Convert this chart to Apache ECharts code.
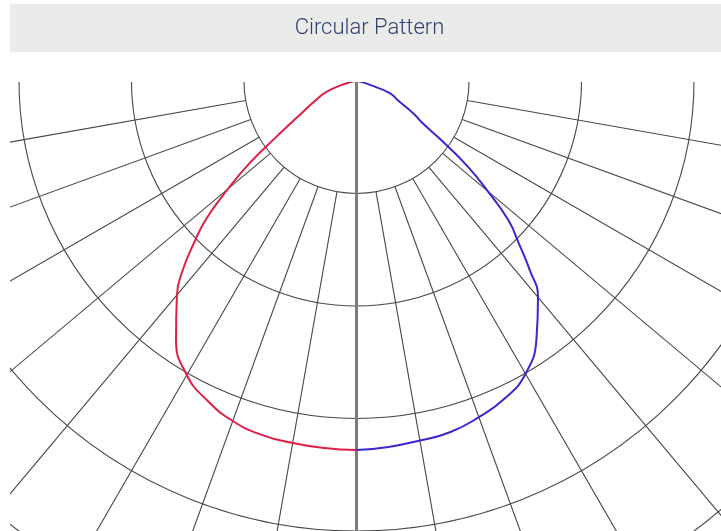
<!DOCTYPE html>
<html>
<head>
<meta charset="utf-8">
<script src="https://cdn.jsdelivr.net/npm/echarts@6/dist/echarts.min.js"></script>
<style>
html,body{margin:0;padding:0;background:#fff;}
#chart{width:721px;height:531px;}
</style>
</head>
<body>
<div id="chart"></div>
<script>
// Photometric angles (degrees from nadir) and intensity values (arbitrary units, rings every 100)
const anglesDeg = [0, 5, 10, 15, 20, 25, 30, 35, 40, 42.5, 45, 47.5, 50, 52.5, 55, 57.5, 60, 65, 70, 75, 80, 85, 90];
const redValues = [328, 327.4, 326.7, 325.6, 321.6, 313.5, 301.7, 279.7, 248.3, 229, 204.9, 180.7, 149, 119.5, 88.5, 68.2, 55, 39.5, 28.8, 14, 5, 2, 0];
const blueValues = [328, 326.5, 324.5, 323, 318, 311.5, 300.5, 279, 251, 228, 204, 183, 152, 124, 93, 69.5, 59.5, 40.8, 31.5, 10, 4, 1, 0];
const ringStep = 100;
const ringMin = 100;
const scaleMax = 533.333;
const titleText = 'Circular Pattern';

const chart = echarts.init(document.getElementById('chart'), null, {renderer: 'canvas'});
const CX = 356.5, CY = 81, ROUT = 600, RIN = 112.5;
const gridColor = '#474747';

const option = {
  animation: false,
  backgroundColor: '#ffffff',
  polar: [
    {center: [CX, CY], radius: [RIN, ROUT]},
    {center: [CX, CY], radius: [0, ROUT]}
  ],
  angleAxis: [
    {
      polarIndex: 0, type: 'value', min: 0, max: 360, interval: 10, startAngle: 0,
      axisLine: {show: false}, axisTick: {show: false}, axisLabel: {show: false},
      splitLine: {show: true, lineStyle: {color: gridColor, width: 1.1}}
    },
    {
      polarIndex: 1, type: 'value', min: 0, max: 360, startAngle: -90, clockwise: true,
      axisLine: {show: false}, axisTick: {show: false}, axisLabel: {show: false},
      splitLine: {show: false}
    }
  ],
  radiusAxis: [
    {
      polarIndex: 0, type: 'value', min: ringMin, max: scaleMax, interval: ringStep,
      axisLine: {show: false}, axisTick: {show: false}, axisLabel: {show: false},
      splitLine: {show: true, lineStyle: {color: gridColor, width: 1.1}}
    },
    {
      polarIndex: 1, type: 'value', min: 0, max: scaleMax,
      axisLine: {show: true, lineStyle: {color: '#7c7c7c', width: 3}},
      axisTick: {show: false}, axisLabel: {show: false}, splitLine: {show: false}
    }
  ],
  series: [
    {
      type: 'line', coordinateSystem: 'polar', polarIndex: 1,
      data: anglesDeg.map((a, i) => [redValues[i], a]),
      showSymbol: false, smooth: 0.5,
      lineStyle: {color: '#df1f45', width: 2}
    },
    {
      type: 'line', coordinateSystem: 'polar', polarIndex: 1,
      data: anglesDeg.map((a, i) => [blueValues[i], 360 - a]),
      showSymbol: false, smooth: 0.5,
      lineStyle: {color: '#3b27cf', width: 2}
    }
  ],
  graphic: [
    {type: 'rect', z: 100, shape: {x: 0, y: 0, width: 721, height: 82}, style: {fill: '#ffffff'}, silent: true},
    {type: 'rect', z: 100, shape: {x: 0, y: 0, width: 10, height: 531}, style: {fill: '#ffffff'}, silent: true},
    {type: 'rect', z: 101, shape: {x: 10, y: 4, width: 711, height: 48}, style: {fill: '#ebebea'}, silent: true},
    {type: 'text', z: 102, x: 369.5, y: 28,
      style: {text: titleText, fill: '#2f4270', font: '300 22px Roboto, "Liberation Sans", Arial, sans-serif',
        align: 'center', verticalAlign: 'middle', textAlign: 'center', textVerticalAlign: 'middle'}}
  ]
};
chart.setOption(option);
</script>
</body>
</html>
